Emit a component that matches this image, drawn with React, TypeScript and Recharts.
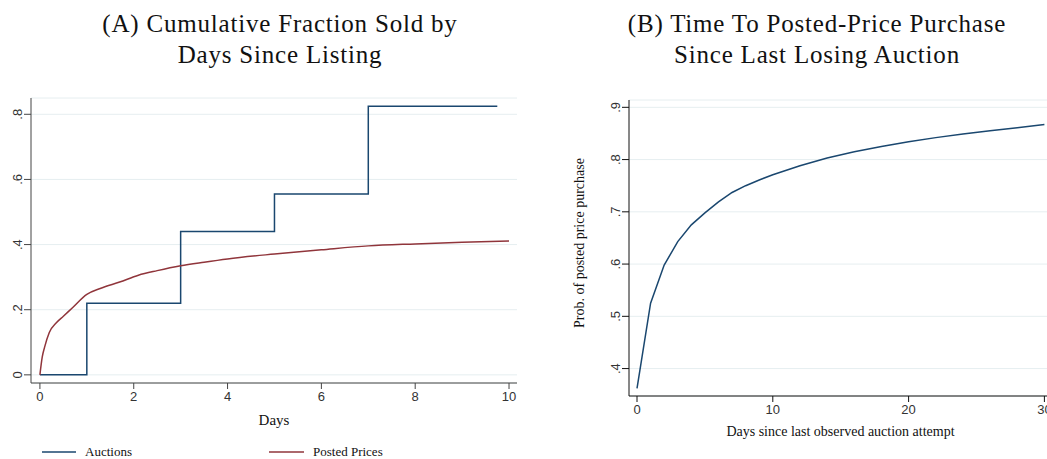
import { LineChart, Line, XAxis, YAxis, CartesianGrid, Label } from 'recharts';

// Panel A: cumulative fraction sold by days since listing
const auctionDays = [0, 1, 3, 5, 7, 9.75];
const auctionShare = [0, 0.22, 0.44, 0.555, 0.825, 0.825];
const postedDays = [0, 0.05, 0.1, 0.2, 0.35, 0.5, 0.7, 1.0, 1.3, 1.7, 2.1, 2.5, 3.0, 3.5, 4.0, 5.0, 6.0, 7.0, 8.0, 9.0, 10.0];
const postedShare = [0, 0.055, 0.085, 0.13, 0.16, 0.18, 0.207, 0.247, 0.266, 0.285, 0.306, 0.32, 0.335, 0.346, 0.356, 0.371, 0.384, 0.396, 0.402, 0.407, 0.411];
const daysTicks = [0, 2, 4, 6, 8, 10];
const shareTicks = [0, 0.2, 0.4, 0.6, 0.8];

// Panel B: probability of posted-price purchase by days since last losing auction
const gapDays = [0, 1, 2, 3, 4, 5, 6, 7, 8, 9, 10, 12, 14, 16, 18, 20, 22, 24, 26, 28, 30];
const purchaseProb = [0.362, 0.525, 0.598, 0.643, 0.675, 0.698, 0.719, 0.737, 0.75, 0.761, 0.771, 0.788, 0.803, 0.815, 0.825, 0.834, 0.842, 0.849, 0.855, 0.861, 0.867];
const gapTicks = [0, 10, 20, 30];
const probTicks = [0.4, 0.5, 0.6, 0.7, 0.8, 0.9];

const auctionData = auctionDays.map((x, i) => ({ x, y: auctionShare[i] }));
const postedData = postedDays.map((x, i) => ({ x, y: postedShare[i] }));
const gapData = gapDays.map((x, i) => ({ x, y: purchaseProb[i] }));

const BLUE = '#1a476f';
const RED = '#90353b';
const GRID = '#e6eef0';
const SANS = '"Liberation Sans", Arial, sans-serif';
const SERIF = '"Liberation Serif", "Times New Roman", serif';

const fmt = (v: number) => (v === 0 ? '0' : String(v).replace(/^0/, ''));

function VTick(props: any) {
  const { x, y, payload } = props;
  return (
    <text
      x={x}
      y={y}
      transform={`rotate(-90 ${x} ${y})`}
      textAnchor="middle"
      fontFamily={SANS}
      fontSize={13}
      fill="#333"
    >
      {fmt(payload.value)}
    </text>
  );
}

const titleStyle: React.CSSProperties = {
  position: 'absolute',
  top: 8,
  width: 440,
  textAlign: 'center',
  fontFamily: SERIF,
  fontSize: 25,
  lineHeight: '31px',
  letterSpacing: 0.8,
  color: '#111',
  whiteSpace: 'nowrap',
};

export default function App() {
  return (
    <div style={{ position: 'absolute', left: 0, top: 0, width: 1047, height: 459, overflow: 'hidden', background: '#fff' }}>
      <div style={{ ...titleStyle, left: 280 - 220 }}>
        (A) Cumulative Fraction Sold by
        <br />
        Days Since Listing
      </div>
      <div style={{ ...titleStyle, left: 817 - 220 }}>
        (B) Time To Posted-Price Purchase
        <br />
        Since Last Losing Auction
      </div>

      <div style={{ position: 'absolute', left: 0, top: 0 }}>
        <LineChart width={530} height={459} margin={{ top: 98, right: 13, bottom: 46, left: 0 }}>
          <CartesianGrid vertical={false} stroke={GRID} />
          <XAxis
            type="number"
            dataKey="x"
            domain={[-0.19, 10.17]}
            ticks={daysTicks}
            allowDataOverflow
            height={30}
            tickSize={6}
            tickMargin={3}
            stroke="#444"
            tick={{ fontFamily: SANS, fontSize: 13, fill: '#333' }}
          >
            <Label value="Days" position="bottom" offset={1} style={{ fontFamily: SERIF, fontSize: 15, fill: '#111' }} />
          </XAxis>
          <YAxis
            type="number"
            domain={[-0.025, 0.85]}
            ticks={shareTicks}
            allowDataOverflow
            width={31}
            tickSize={7}
            tickMargin={2}
            stroke="#444"
            tick={<VTick />}
          />
          <Line data={auctionData} dataKey="y" type="stepAfter" stroke={BLUE} strokeWidth={1.5} dot={false} isAnimationActive={false} />
          <Line data={postedData} dataKey="y" type="monotone" stroke={RED} strokeWidth={1.5} dot={false} isAnimationActive={false} />
        </LineChart>
      </div>

      <div style={{ position: 'absolute', left: 42, top: 444, display: 'flex', alignItems: 'center', fontFamily: SERIF, fontSize: 13, color: '#111' }}>
        <span style={{ display: 'inline-block', width: 34, height: 2, background: BLUE, opacity: 0.75 }} />
        <span style={{ marginLeft: 9 }}>Auctions</span>
      </div>
      <div style={{ position: 'absolute', left: 269, top: 444, display: 'flex', alignItems: 'center', fontFamily: SERIF, fontSize: 13, color: '#111' }}>
        <span style={{ display: 'inline-block', width: 35, height: 2, background: RED, opacity: 0.75 }} />
        <span style={{ marginLeft: 9 }}>Posted Prices</span>
      </div>

      <div style={{ position: 'absolute', left: 560, top: 0 }}>
        <LineChart width={492} height={459} margin={{ top: 100, right: 0, bottom: 33, left: 0 }}>
          <CartesianGrid vertical={false} stroke={GRID} />
          <XAxis
            type="number"
            dataKey="x"
            domain={[-0.59, 30.56]}
            ticks={gapTicks}
            allowDataOverflow
            height={30}
            tickSize={6}
            tickMargin={3}
            stroke="#111"
            tick={{ fontFamily: SANS, fontSize: 13, fill: '#333' }}
          >
            <Label
              value="Days since last observed auction attempt"
              position="bottom"
              offset={0}
              style={{ fontFamily: SERIF, fontSize: 14, fill: '#111' }}
            />
          </XAxis>
          <YAxis
            type="number"
            domain={[0.3475, 0.914]}
            ticks={probTicks}
            allowDataOverflow
            width={69}
            tickSize={7}
            tickMargin={2}
            stroke="#111"
            tick={<VTick />}
          >
            <Label
              content={() => (
                <text x={24} y={243} transform="rotate(-90 24 243)" textAnchor="middle" fontFamily={SERIF} fontSize={14} fill="#111">
                  Prob. of posted price purchase
                </text>
              )}
            />
          </YAxis>
          <Line data={gapData} dataKey="y" type="linear" stroke={BLUE} strokeWidth={1.5} dot={false} isAnimationActive={false} />
        </LineChart>
      </div>
    </div>
  );
}
